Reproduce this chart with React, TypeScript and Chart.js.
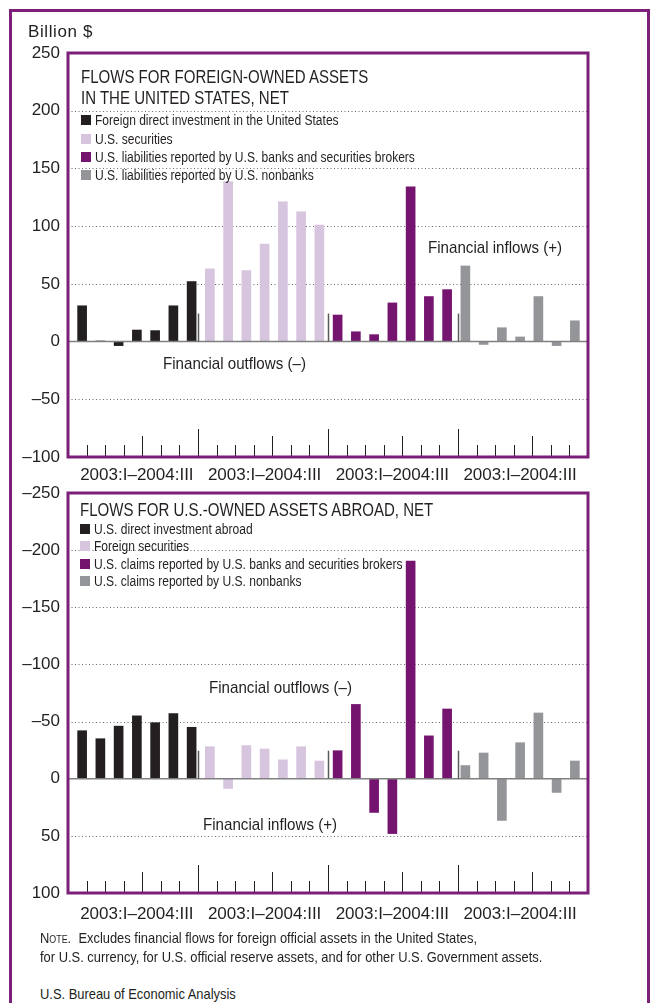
import React, { useEffect, useRef } from 'react';
import { Chart, registerables } from 'chart.js';

Chart.register(...registerables);

const FONT = "'Liberation Sans', Arial, Helvetica, sans-serif";
const INK = '#231f20';
const FRAME = '#7b1f79';
const DASH = '\u2013';

// ---------- data ----------
const quarters = ['2003:I', '2003:II', '2003:III', '2003:IV', '2004:I', '2004:II', '2004:III'];
const groupLabel = '2003:I\u20132004:III';

// Flows for foreign-owned assets in the United States, net (billion $)
const fdiInUS = [31, 0.5, -3.5, 10, 9.5, 31, 52];
const usSecurities = [63, 138.5, 61.5, 84.5, 121, 112.5, 101];
const usLiabBanks = [23, 8.5, 6, 33.5, 134, 39, 45];
const usLiabNonbanks = [65.5, -2.5, 12, 4, 39, -3.5, 18];

// Flows for U.S.-owned assets abroad, net (billion $; negative = outflow)
const usDIAbroad = [-42, -35, -46, -55, -49, -57, -45];
const foreignSecurities = [-28, 8.5, -29, -26, -16.5, -28, -15.5];
const usClaimsBanks = [-24.5, -65, 29.5, 48, -190.5, -37.5, -61];
const usClaimsNonbanks = [-11.5, -22.5, 36.5, -31.5, -57.5, 12, -15.5];

const topTicks = [-100, -50, 0, 50, 100, 150, 200, 250];
const bottomTicks = [-250, -200, -150, -100, -50, 0, 50, 100];

const topLegend = [
  'Foreign direct investment in the United States',
  'U.S. securities',
  'U.S. liabilities reported by U.S. banks and securities brokers',
  'U.S. liabilities reported by U.S. nonbanks',
];
const bottomLegend = [
  'U.S. direct investment abroad',
  'Foreign securities',
  'U.S. claims reported by U.S. banks and securities brokers',
  'U.S. claims reported by U.S. nonbanks',
];
const COLORS = ['#231f20', '#d7c4de', '#74146f', '#939598'];

const fmt = (v: number) => (v < 0 ? DASH + Math.abs(v) : String(v));

// the panel frame sits slightly outside the bar area
const FRAME_L = 5;
const FRAME_R = 4;

const decorPlugin = {
  id: 'panelDecor',
  beforeDatasetsDraw(chart: any) {
    const { ctx, chartArea: a, scales } = chart;
    const y = scales.y;
    const L = a.left - FRAME_L;
    const R = a.right + FRAME_R;
    ctx.save();
    ctx.strokeStyle = '#6a6a6a';
    ctx.lineWidth = 1;
    ctx.setLineDash([1, 2.5]);
    for (const t of y.ticks) {
      if (t.value === y.min || t.value === y.max || t.value === 0) continue;
      const py = Math.round(y.getPixelForValue(t.value)) + 0.5;
      ctx.beginPath();
      ctx.moveTo(L, py);
      ctx.lineTo(R, py);
      ctx.stroke();
    }
    ctx.restore();
  },
  afterDatasetsDraw(chart: any) {
    const { ctx, chartArea: a, scales } = chart;
    const y = scales.y;
    const n = chart.data.labels.length;
    const per = quarters.length;
    const y0 = y.getPixelForValue(0);
    const L = a.left - FRAME_L;
    const R = a.right + FRAME_R;
    const step = (R - L) / n;
    ctx.save();
    ctx.strokeStyle = '#808080';
    ctx.lineWidth = 1.6;
    ctx.beginPath();
    ctx.moveTo(L, y0);
    ctx.lineTo(R, y0);
    ctx.stroke();
    for (let i = 1; i < n; i++) {
      const px = Math.round(L + i * step) + 0.5;
      const h = i % per === 0 ? 28 : i % per === 4 ? 21 : 12;
      ctx.strokeStyle = INK;
      ctx.lineWidth = 1;
      ctx.beginPath();
      ctx.moveTo(px, a.bottom);
      ctx.lineTo(px, a.bottom - h);
      ctx.stroke();
      if (i % per === 0) {
        ctx.strokeStyle = '#5a5a5a';
        ctx.lineWidth = 1.5;
        ctx.beginPath();
        ctx.moveTo(px, y0);
        ctx.lineTo(px, y0 - 28);
        ctx.stroke();
      }
    }
    ctx.strokeStyle = FRAME;
    ctx.lineWidth = 3;
    ctx.strokeRect(L, a.top, R - L, a.bottom - a.top);
    ctx.restore();
  },
};

type PanelProps = {
  series: number[][];
  yTicks: number[];
  reverse: boolean;
  height: number;
  padTop: number;
  xAxisH: number;
  labelPad: number;
};

function BarPanel({ series, yTicks, reverse, height, padTop, xAxisH, labelPad }: PanelProps) {
  const ref = useRef<HTMLCanvasElement>(null);
  useEffect(() => {
    const labels: string[] = [];
    series.forEach(() => quarters.forEach((q) => labels.push(q)));
    const datasets = series.map((vals, k) => {
      const data: (number | null)[] = labels.map(() => null);
      vals.forEach((v, j) => {
        data[k * quarters.length + j] = v;
      });
      return {
        data,
        backgroundColor: COLORS[k],
        borderWidth: 0,
        barThickness: 9,
        grouped: false,
      };
    });
    const chart = new Chart(ref.current as HTMLCanvasElement, {
      type: 'bar',
      data: { labels, datasets: datasets as any },
      plugins: [decorPlugin as any],
      options: {
        responsive: false,
        animation: false,
        devicePixelRatio: 1,
        layout: { padding: { top: padTop, right: 66, left: 0, bottom: 0 } },
        plugins: { legend: { display: false }, tooltip: { enabled: false }, title: { display: false } },
        scales: {
          x: {
            type: 'category',
            offset: true,
            grid: { display: false, drawTicks: false },
            border: { display: false },
            ticks: {
              autoSkip: false,
              maxRotation: 0,
              minRotation: 0,
              padding: labelPad,
              color: INK,
              font: { family: FONT, size: 17 },
              callback: (_v: any, i: number) => (i % quarters.length === 3 ? groupLabel : ''),
            },
            afterFit: (s: any) => {
              s.height = xAxisH;
              s.paddingLeft = 0;
              s.paddingRight = 0;
            },
          },
          y: {
            type: 'linear',
            min: yTicks[0],
            max: yTicks[yTicks.length - 1],
            reverse,
            grid: { display: false, drawTicks: false },
            border: { display: false },
            afterBuildTicks: (s: any) => {
              s.ticks = yTicks.map((v) => ({ value: v }));
            },
            ticks: {
              padding: 13,
              color: INK,
              font: { family: FONT, size: 17 },
              callback: (v: any) => fmt(Number(v)),
            },
            afterFit: (s: any) => {
              s.width = 73;
              s.paddingTop = 0;
              s.paddingBottom = 0;
            },
          },
        },
      } as any,
    });
    return () => chart.destroy();
  }, []);
  return <canvas ref={ref} width={650} height={height} style={{ display: 'block', width: 650, height }} />;
}

function T({ x, cy, size, sx = 0.88, children, style }: any) {
  return (
    <div
      style={{
        position: 'absolute',
        left: x,
        top: cy,
        fontSize: size,
        lineHeight: 1,
        whiteSpace: 'nowrap',
        transform: `translateY(-50%) scaleX(${sx})`,
        transformOrigin: 'left center',
        color: INK,
        ...style,
      }}
    >
      {children}
    </div>
  );
}

function Legend({ items, x, ys }: { items: string[]; x: number; ys: number[] }) {
  return (
    <>
      {items.map((it, i) => (
        <React.Fragment key={it}>
          <div
            style={{
              position: 'absolute',
              left: x,
              top: ys[i] - 5,
              width: 10,
              height: 10,
              background: COLORS[i],
            }}
          />
          <T x={x + 14} cy={ys[i]} size={14} sx={0.86}>
            {it}
          </T>
        </React.Fragment>
      ))}
    </>
  );
}

export default function App() {
  return (
    <div
      style={{
        position: 'absolute',
        left: 0,
        top: 0,
        width: 650,
        height: 1003,
        overflow: 'hidden',
        background: '#fff',
        fontFamily: FONT,
        color: INK,
      }}
    >
      <div
        style={{
          position: 'absolute',
          left: 9,
          top: 9,
          width: 641,
          height: 1100,
          border: `3px solid ${FRAME}`,
          boxSizing: 'border-box',
        }}
      />
      <div style={{ position: 'absolute', left: 0, top: 0 }}>
        <BarPanel
          series={[fdiInUS, usSecurities, usLiabBanks, usLiabNonbanks]}
          yTicks={topTicks}
          reverse={false}
          height={490}
          padTop={53}
          xAxisH={33}
          labelPad={8}
        />
      </div>
      <div style={{ position: 'absolute', left: 0, top: 480 }}>
        <BarPanel
          series={[usDIAbroad, foreignSecurities, usClaimsBanks, usClaimsNonbanks]}
          yTicks={bottomTicks}
          reverse={true}
          height={460}
          padTop={13}
          xAxisH={47}
          labelPad={11}
        />
      </div>

      <T x={28} cy={31} size={17} sx={1} style={{ letterSpacing: 0.6 }}>Billion $</T>

      <T x={81} cy={76.5} size={18} sx={0.835}>FLOWS FOR FOREIGN-OWNED ASSETS</T>
      <T x={81} cy={97.5} size={18} sx={0.835}>IN THE UNITED STATES, NET</T>
      <Legend items={topLegend} x={81} ys={[120.3, 138.6, 157, 175]} />

      <T x={428} cy={247} size={17} sx={0.89}>Financial inflows (+)</T>
      <T x={163} cy={362.7} size={17} sx={0.89}>{'Financial outflows (' + DASH + ')'}</T>

      <T x={80} cy={510} size={18} sx={0.835}>FLOWS FOR U.S.-OWNED ASSETS ABROAD, NET</T>
      <Legend items={bottomLegend} x={80} ys={[528.5, 546, 563.5, 581]} />

      <T x={209} cy={686.7} size={17} sx={0.89}>{'Financial outflows (' + DASH + ')'}</T>
      <T x={203} cy={824} size={17} sx={0.89}>Financial inflows (+)</T>

      <T x={40} cy={938} size={14.5} sx={0.89}>
        <span style={{ fontVariant: 'small-caps' }}>Note.</span>&nbsp; Excludes financial flows for foreign official assets in the United States,
      </T>
      <T x={40} cy={956.7} size={14.5} sx={0.89}>
        for U.S. currency, for U.S. official reserve assets, and for other U.S. Government assets.
      </T>
      <T x={40} cy={994} size={14.5} sx={0.89}>U.S. Bureau of Economic Analysis</T>
    </div>
  );
}
